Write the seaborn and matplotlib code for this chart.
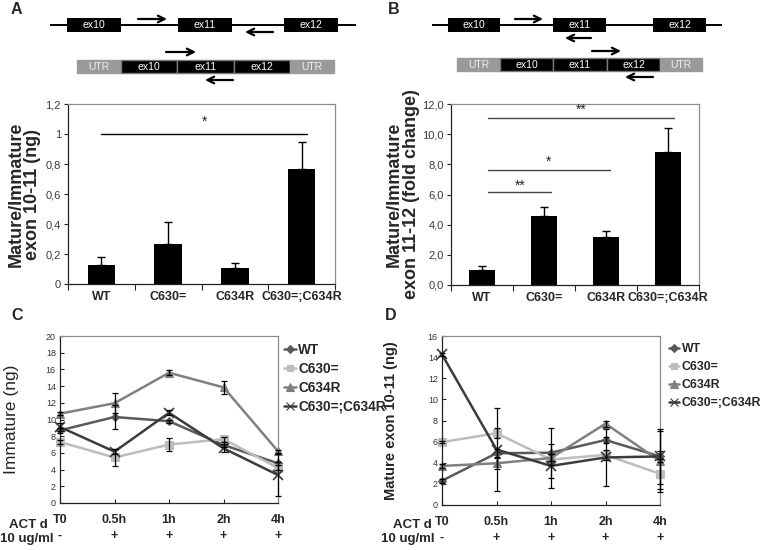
import numpy as np
import pandas as pd
import matplotlib
matplotlib.use("Agg")
import matplotlib.pyplot as plt
import matplotlib.transforms as mtransforms
from matplotlib.patches import Rectangle
from matplotlib.ticker import FuncFormatter, MultipleLocator
import seaborn as sns

# ---------------- data ----------------
genotypes = ["WT", "C630=", "C634R", "C630=;C634R"]
ratio_ex10_11 = [0.13, 0.265, 0.108, 0.77]
ratio_ex10_11_err = [0.05, 0.15, 0.035, 0.18]
ratio_ex11_12 = [1.0, 4.55, 3.2, 8.85]
ratio_ex11_12_err = [0.25, 0.65, 0.4, 1.55]

timepoints = ["T0", "0.5h", "1h", "2h", "4h"]
act_d = ["-", "+", "+", "+", "+"]

immature_wt = [8.7, 10.3, 9.8, 6.95, 4.75]
immature_c630 = [7.3, 5.45, 7.0, 7.65, 4.2]
immature_c634r = [10.7, 11.95, 15.6, 13.85, 6.2]
immature_double = [9.1, 6.15, 10.8, 6.55, 3.35]
immature_wt_err = [0.3, 1.45, 0.2, 0.3, 0.2]
immature_c630_err = [0.2, 1.0, 0.8, 0.3, 0.3]
immature_c634r_err = [0.2, 1.2, 0.3, 0.75, 0.2]
immature_double_err = [0.5, 0.3, 0.3, 0.5, 2.5]

mature_wt = [2.3, 4.9, 4.95, 6.15, 4.6]
mature_c630 = [5.95, 6.8, 4.3, 4.75, 2.95]
mature_c634r = [3.7, 3.95, 4.45, 7.7, 4.15]
mature_double = [14.25, 5.25, 3.7, 4.5, 4.6]
mature_wt_err = [0.2, 0.4, 0.8, 0.3, 0.5]
mature_c630_err = [0.1, 0.5, 0.5, 0.5, 1.4]
mature_c634r_err = [0.2, 0.5, 2.8, 0.3, 2.9]
mature_double_err = [0.1, 3.9, 1.1, 2.7, 2.6]

# ---------------- style ----------------
sns.set_theme(style="ticks")
plt.rcParams["font.family"] = ["Liberation Sans", "DejaVu Sans"]

W, H = 760, 550
fig = plt.figure(figsize=(7.6, 5.5), dpi=100)

def px_rect(x0, y0, x1, y1):
    return [x0 / W, 1 - y1 / H, (x1 - x0) / W, (y1 - y0) / H]

palette = {"WT": "#5a5a5a", "C630=": "#bdbdbd", "C634R": "#808080", "C630=;C634R": "#3c3c3c"}
markers = {"WT": "D", "C630=": "s", "C634R": "^", "C630=;C634R": "X"}
msizes = {"D": 4.2, "s": 5.5, "^": 6, "X": 7, "x": 7}

# ---------------- diagrams (overlay in pixel coords) ----------------
dax = fig.add_axes([0, 0, 1, 1])
dax.set_xlim(0, W)
dax.set_ylim(H, 0)
dax.axis("off")

def arrow(x0, x1, y):
    dax.annotate("", xy=(x1, y), xytext=(x0, y),
                 arrowprops=dict(arrowstyle="->", lw=1.6, color="black",
                                 mutation_scale=12, shrinkA=0, shrinkB=0))

def diagram(line, exons, gy, fwd, rev, mrna, my, mfwd, mrev):
    dax.plot(line, [gy, gy], color="black", lw=1.4, solid_capstyle="butt")
    for (a, b), lab in zip(exons, ["ex10", "ex11", "ex12"]):
        dax.add_patch(Rectangle((a, gy - 7), b - a, 14, facecolor="black", edgecolor="none"))
        dax.text((a + b) / 2, gy, lab, color="white", fontsize=7.5, ha="center", va="center")
    arrow(*fwd)
    arrow(*rev)
    labs = ["UTR", "ex10", "ex11", "ex12", "UTR"]
    for (a, b), lab in zip(mrna, labs):
        utr = lab == "UTR"
        dax.add_patch(Rectangle((a, my - 6.5), b - a, 13,
                                facecolor="#9a9a9a" if utr else "black",
                                edgecolor="#9a9a9a" if utr else "#7a7a7a", lw=1.0))
        dax.text((a + b) / 2, my, lab, color="#eeeeee" if utr else "white",
                 fontsize=7.5, ha="center", va="center")
    arrow(*mfwd)
    arrow(*mrev)

diagram((50, 356), [(67, 121), (178, 232), (284, 338)], 25,
        (138, 167, 19), (273, 245, 32),
        [(77, 121), (121, 177), (177, 234), (234, 290), (290, 334)], 66.5,
        (166, 196, 52), (233, 205, 80))
diagram((432, 722), [(448, 500), (553, 606), (653, 706)], 25,
        (515, 543, 19), (591, 565, 38),
        [(457, 500), (500, 553), (553, 607), (607, 660), (660, 702)], 64.5,
        (592, 621, 51), (653, 625, 77))

for lab, x, y in [("A", 16, 9), ("B", 394, 9), ("C", 17, 316), ("D", 391, 316)]:
    fig.text(x / W, 1 - y / H, lab, fontsize=11.5, fontweight="bold", ha="center", va="center")

# ---------------- bar panels ----------------
def style_box(ax):
    for s in ["top", "right"]:
        ax.spines[s].set_color("#8c8c8c")
        ax.spines[s].set_linewidth(0.9)
    for s in ["left", "bottom"]:
        ax.spines[s].set_color("#222222")
        ax.spines[s].set_linewidth(0.9)

def bar_panel(rect, vals, errs, ylim, step, fmt, ylabel, label_x, sigs, line_color):
    ax = fig.add_axes(rect)
    sns.barplot(x=genotypes, y=vals, color="black", saturation=1, width=0.41,
                errorbar=None, ax=ax, edgecolor="none")
    ax.errorbar(range(len(vals)), vals, yerr=[np.zeros(len(vals)), errs], fmt="none",
                ecolor="black", elinewidth=1, capsize=3, capthick=1)
    ax.set_xlim(-0.5, len(vals) - 0.5)
    ax.set_ylim(*ylim)
    ax.yaxis.set_major_locator(MultipleLocator(step))
    ax.yaxis.set_major_formatter(FuncFormatter(fmt))
    ax.tick_params(axis="y", direction="out", length=3, width=0.8, labelsize=8,
                   labelcolor="#3a3a3a", pad=2)
    ax.set_xticks(range(len(vals)))
    ax.set_xticklabels(genotypes, fontsize=9, fontweight="bold")
    ax.tick_params(axis="x", which="major", length=0, pad=5)
    ax.set_xticks(np.arange(-0.5, len(vals)), minor=True)
    ax.tick_params(axis="x", which="minor", direction="out", length=4, width=0.8)
    ax.set_xlabel("")
    ax.set_ylabel(ylabel, fontsize=13, fontweight="bold", linespacing=1.0)
    ax.yaxis.set_label_coords(label_x, 0.5)
    style_box(ax)
    for x0, x1, y, ys, txt in sigs:
        ax.plot([x0, x1], [y, y], color=line_color, lw=1.0)
        ax.text((x0 + x1) / 2, ys, txt, ha="center", va="center", fontsize=10)
    return ax

bar_panel(px_rect(68, 104, 335, 284), ratio_ex10_11, ratio_ex10_11_err, (0, 1.2), 0.2,
          lambda v, p: f"{round(v, 1):g}".replace(".", ","),
          "Mature/Immature\nexon 10-11 (ng)", -0.10,
          [(0, 3.08, 1.0, 1.08, "*")], "black")
bar_panel(px_rect(451, 104, 699, 285), ratio_ex11_12, ratio_ex11_12_err, (0, 12), 2,
          lambda v, p: f"{v:.1f}".replace(".", ","),
          "Mature/Immature\nexon 11-12 (fold change)", -0.125,
          [(0.1, 3.09, 11.1, 11.6, "**"), (0.1, 2.06, 7.6, 8.2, "*"),
           (0.1, 1.12, 6.15, 6.6, "**")], "#444444")

# ---------------- line panels ----------------
def fix_marker(ln, scale=1.0):
    m = ln.get_marker()
    if m in msizes:
        if m == "X":
            ln.set_marker("x")
        ln.set_markersize(msizes[m] * scale)
        ln.set_markeredgecolor(ln.get_color())
        ln.set_markeredgewidth(1.2 if m == "X" else 0.8)

def line_panel(rect, series, errs, ylim, ylabel, label_x, label_w, label_fs,
               legend_xy, legend_fs, legend_sp, act_xy):
    ax = fig.add_axes(rect)
    rows = []
    for name, vals in series.items():
        for i, v in enumerate(vals):
            rows.append({"pos": i, "value": v, "series": name})
    df = pd.DataFrame(rows)
    sns.lineplot(data=df, x="pos", y="value", hue="series", style="series",
                 palette=palette, markers=markers, dashes=False, linewidth=1.8,
                 ax=ax, legend="full", errorbar=None)
    for ln in ax.lines:
        fix_marker(ln)
        ln.set_clip_on(False)
    for name, vals in series.items():
        ax.errorbar(range(len(vals)), vals, yerr=errs[name], fmt="none", ecolor="black",
                    elinewidth=0.9, capsize=2.5, capthick=0.9, clip_on=False, zorder=3)
    handles, labels = ax.get_legend_handles_labels()
    ax.get_legend().remove()
    for h in handles:
        fix_marker(h, 0.9)
    fig.legend(handles, labels, loc="upper left",
               bbox_to_anchor=(legend_xy[0] / W, 1 - legend_xy[1] / H),
               frameon=False, prop=dict(weight="bold", size=legend_fs), handlelength=0.85,
               handletextpad=0.2, labelspacing=legend_sp, borderaxespad=0, borderpad=0)
    ax.set_xlim(0, len(timepoints) - 1)
    ax.set_ylim(*ylim)
    ax.yaxis.set_major_locator(MultipleLocator(2))
    ax.tick_params(axis="y", direction="in", length=3, width=0.8, labelsize=6.5,
                   labelcolor="#333333", pad=3)
    ax.set_xticks(range(len(timepoints)))
    ax.set_xticklabels(timepoints, fontsize=9, fontweight="bold")
    ax.tick_params(axis="x", direction="in", length=3, width=0.8, pad=8)
    ax.set_xlabel("")
    ax.set_ylabel(ylabel, fontsize=label_fs, fontweight=label_w)
    ax.yaxis.set_label_coords(label_x, 0.5)
    style_box(ax)
    trans = mtransforms.blended_transform_factory(ax.transData, ax.transAxes)
    for i, s in enumerate(act_d):
        ax.text(i, -0.195, s, transform=trans, ha="center", va="center",
                fontsize=9, fontweight="bold")
    fig.text(act_xy[0] / W, 1 - 525 / H, "ACT d", ha="center", va="center",
             fontsize=9.5, fontweight="bold")
    fig.text(act_xy[1] / W, 1 - 539 / H, "10 ug/ml", ha="center", va="center",
             fontsize=9.5, fontweight="bold")
    return ax

line_panel(px_rect(60, 336, 278, 503),
           {"WT": immature_wt, "C630=": immature_c630, "C634R": immature_c634r,
            "C630=;C634R": immature_double},
           {"WT": immature_wt_err, "C630=": immature_c630_err, "C634R": immature_c634r_err,
            "C630=;C634R": immature_double_err},
           (0, 20), "Immature (ng)", -0.19, "normal", 12.5,
           (284, 343), 9.8, 0.36, (28, 27))
line_panel(px_rect(442, 336, 660, 505),
           {"WT": mature_wt, "C630=": mature_c630, "C634R": mature_c634r,
            "C630=;C634R": mature_double},
           {"WT": mature_wt_err, "C630=": mature_c630_err, "C634R": mature_c634r_err,
            "C630=;C634R": mature_double_err},
           (0, 16), "Mature exon 10-11 (ng)", -0.2, "bold", 10.5,
           (669, 343), 8.8, 0.5, (412, 408))

fig.savefig("out.png", dpi=100)
